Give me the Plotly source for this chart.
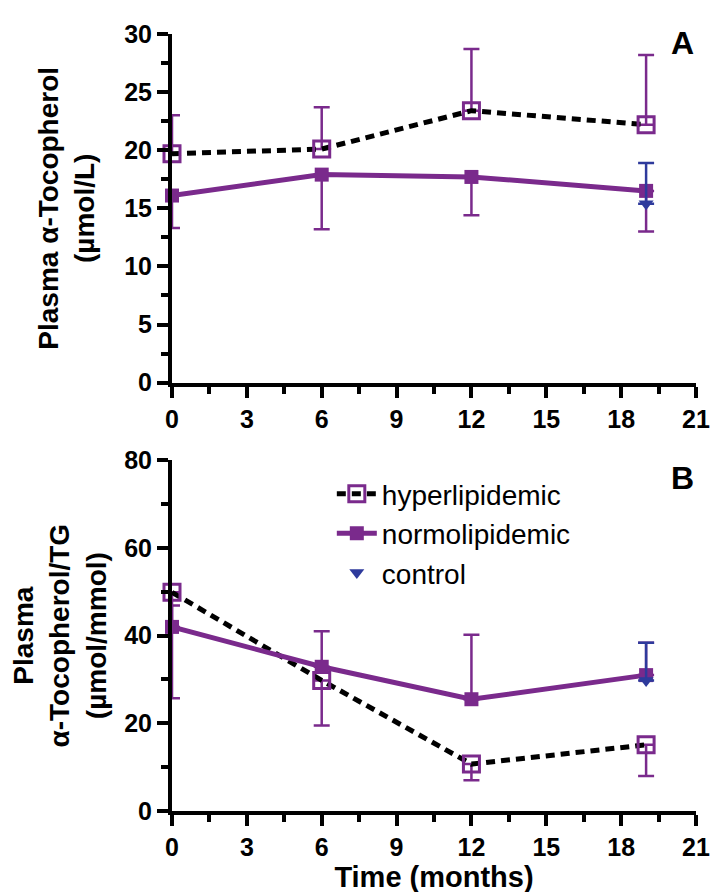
import plotly.graph_objects as go

# ---------------- data ----------------
months = [0, 6, 12, 19]
control_month = [19]

# Panel A: plasma alpha-tocopherol (umol/L)
a_hyper = [19.7, 20.1, 23.4, 22.2]
a_hyper_err = [3.3, 3.6, 5.3, 6.0]          # shown upward
a_normo = [16.1, 17.9, 17.7, 16.5]
a_normo_err = [2.8, 4.7, 3.3, 3.5]          # shown downward
a_control = [15.4]
a_control_err = [3.5]                       # shown upward

# Panel B: plasma alpha-tocopherol/TG (umol/mmol)
b_hyper = [49.9, 29.8, 10.7, 15.1]
b_hyper_err = [24.2, 10.3, 3.7, 7.1]        # shown downward
b_normo = [42.0, 32.9, 25.5, 31.0]
b_normo_err = [4.9, 8.1, 14.7, 7.4]         # shown upward
b_control = [29.8]
b_control_err = [8.6]                       # shown upward

x_ticks = [0, 3, 6, 9, 12, 15, 18, 21]
a_ticks = [0, 5, 10, 15, 20, 25, 30]
b_ticks = [0, 20, 40, 60, 80]

names = ["hyperlipidemic", "normolipidemic", "control"]

# ---------------- style ----------------
PURPLE = "#7a2a8c"
BLUE = "#2e3a9c"
FONT = "Liberation Sans, Arial, sans-serif"
zeros = [0, 0, 0, 0]

fig = go.Figure()


def add_panel(xa, ya, hyper, hyper_err, hyper_up, normo, normo_err, normo_up,
              control, control_err, show):
    fig.add_trace(go.Scatter(
        x=months, y=hyper, xaxis=xa, yaxis=ya, name=names[0],
        mode="lines+markers", showlegend=show, legendrank=1, cliponaxis=False,
        line=dict(color="black", width=5, dash="9px,6px"),
        marker=dict(symbol="square-open", size=16, color=PURPLE,
                    line=dict(color=PURPLE, width=3)),
        error_y=dict(type="data", symmetric=False,
                     array=hyper_err if hyper_up else zeros,
                     arrayminus=zeros if hyper_up else hyper_err,
                     color=PURPLE, thickness=2.5, width=8),
    ))
    fig.add_trace(go.Scatter(
        x=months, y=normo, xaxis=xa, yaxis=ya, name=names[1],
        mode="lines+markers", showlegend=show, legendrank=2, cliponaxis=False,
        line=dict(color=PURPLE, width=5),
        marker=dict(symbol="square", size=14, color=PURPLE),
        error_y=dict(type="data", symmetric=False,
                     array=normo_err if normo_up else zeros,
                     arrayminus=zeros if normo_up else normo_err,
                     color=PURPLE, thickness=2.5, width=8),
    ))
    fig.add_trace(go.Scatter(
        x=control_month, y=control, xaxis=xa, yaxis=ya, name=names[2],
        mode="markers", showlegend=show, legendrank=3, cliponaxis=False,
        marker=dict(symbol="triangle-down", size=13, color=BLUE),
        error_y=dict(type="data", symmetric=False, array=control_err,
                     arrayminus=[0], color=BLUE, thickness=2.5, width=8),
    ))


add_panel("x", "y", a_hyper, a_hyper_err, True, a_normo, a_normo_err, False,
          a_control, a_control_err, False)
add_panel("x2", "y2", b_hyper, b_hyper_err, False, b_normo, b_normo_err, True,
          b_control, b_control_err, True)

axis_common = dict(
    showline=True, linecolor="black", linewidth=4, mirror=False,
    ticks="outside", ticklen=11, tickwidth=4, tickcolor="black",
    showgrid=False, zeroline=False,
    tickfont=dict(family=FONT, size=25, color="black", weight="bold"),
)

fig.update_layout(
    width=727, height=892,
    margin=dict(l=163, r=39, t=23, b=89),
    paper_bgcolor="white", plot_bgcolor="white",
    font=dict(family=FONT, color="black"),
    xaxis=dict(axis_common, domain=[0, 1], anchor="y", range=[0, 21],
               tickvals=x_ticks, ticktext=[str(v) for v in x_ticks],
               minor=dict(dtick=1.5, tick0=0, ticks="outside", ticklen=7,
                          tickwidth=4, tickcolor="black")),
    yaxis=dict(axis_common, domain=[0.5513, 1], anchor="x", range=[0, 30],
               tickvals=a_ticks, ticktext=[str(v) for v in a_ticks],
               minor=dict(dtick=2.5, tick0=0, ticks="outside", ticklen=7,
                          tickwidth=4, tickcolor="black"),
               title=dict(text="Plasma \u03b1-Tocopherol<br>(\u00b5mol/L)",
                          font=dict(family=FONT, size=28, color="black",
                                    weight="bold"), standoff=22)),
    xaxis2=dict(axis_common, domain=[0, 1], anchor="y2", range=[0, 21],
                tickvals=x_ticks, ticktext=[str(v) for v in x_ticks],
                minor=dict(dtick=1.5, tick0=0, ticks="outside", ticklen=7,
                           tickwidth=4, tickcolor="black"),
                title=dict(text="Time (months)",
                           font=dict(family=FONT, size=29, color="black",
                                     weight="bold"), standoff=0)),
    yaxis2=dict(axis_common, domain=[0, 0.4513], anchor="x2", range=[0, 80],
                tickvals=b_ticks, ticktext=[str(v) for v in b_ticks],
                minor=dict(dtick=10, tick0=0, ticks="outside", ticklen=7,
                           tickwidth=4, tickcolor="black"),
                title=dict(text="Plasma<br>\u03b1-Tocopherol/TG<br>(\u00b5mol/mmol)",
                           font=dict(family=FONT, size=28, color="black",
                                     weight="bold"), standoff=12)),
    legend=dict(x=0.305, y=0.44, xanchor="left", yanchor="top",
                bgcolor="rgba(0,0,0,0)", borderwidth=0,
                font=dict(family=FONT, size=28, color="black"),
                itemwidth=40, tracegroupgap=0),
    annotations=[
        dict(text="<b>A</b>", x=0.975, y=0.988, xref="paper", yref="paper",
             xanchor="center", yanchor="middle", showarrow=False,
             font=dict(family=FONT, size=32, color="black")),
        dict(text="<b>B</b>", x=0.975, y=0.428, xref="paper", yref="paper",
             xanchor="center", yanchor="middle", showarrow=False,
             font=dict(family=FONT, size=32, color="black")),
    ],
)

fig.write_html("out.html")
